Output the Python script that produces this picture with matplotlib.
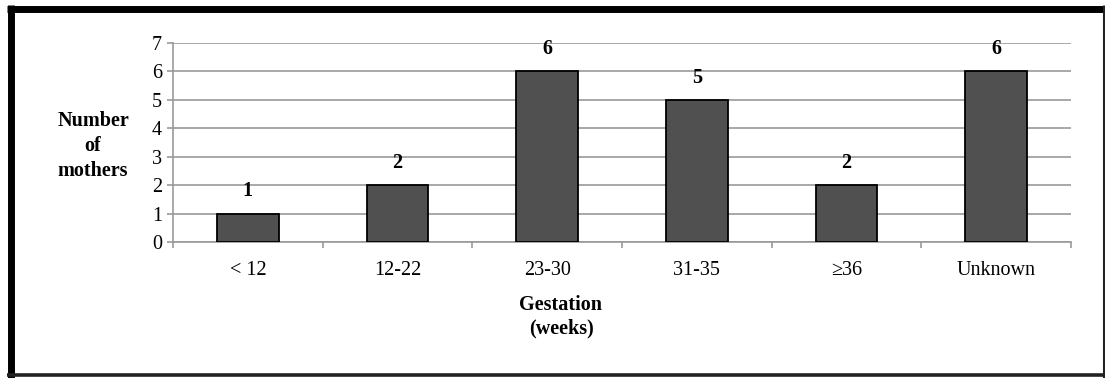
import matplotlib
matplotlib.use("Agg")
import matplotlib.pyplot as plt
from matplotlib.lines import Line2D

categories = ["< 12", "12-22", "23-30", "31-35", "\u226536", "Unknown"]
values = [1, 2, 6, 5, 2, 6]
y_ticks = [0, 1, 2, 3, 4, 5, 6, 7]

plt.rcParams['font.family'] = ['Liberation Serif', 'DejaVu Serif']

W, H = 1105, 378
fig = plt.figure(figsize=(W / 100, H / 100), dpi=100)

left, right, top, bottom = 173, 1071, 43, 242
ax = fig.add_axes([left / W, 1 - bottom / H, (right - left) / W, (bottom - top) / H])

FS = 14.5

x = list(range(len(categories)))
ax.bar(x, values, width=0.41, color="#505050", edgecolor="black", linewidth=1.3, zorder=3)
ax.set_xlim(-0.5, len(categories) - 0.5)
ax.set_ylim(0, 7)
ax.set_yticks(y_ticks)
ax.set_yticklabels([str(t) for t in y_ticks], fontsize=FS)
ax.grid(axis="y", color="#999999", linewidth=1.2, zorder=0)
ax.set_axisbelow(True)

ax.set_xticks([i - 0.5 for i in range(len(categories) + 1)], minor=False)
ax.set_xticklabels([])
ax.set_xticks(x, minor=True)
ax.set_xticklabels(categories, minor=True, fontsize=FS)
ax.tick_params(axis="x", which="minor", length=0, pad=14)
ax.tick_params(axis="x", which="major", length=4, color="#999999", width=1.2, direction="out")
ax.tick_params(axis="y", length=4, color="#999999", width=1.2, pad=4)

for s in ["top", "right"]:
    ax.spines[s].set_visible(False)
for s in ["left", "bottom"]:
    ax.spines[s].set_color("#999999")
    ax.spines[s].set_linewidth(1.2)

for xi, v in zip(x, values):
    ax.annotate(str(v), (xi, v), xytext=(0, 16), textcoords="offset points",
                ha="center", va="center", fontsize=FS, fontweight="bold", zorder=4)

fig.text(93 / W, 1 - 146 / H, "Number\nof\nmothers", ha="center", va="center",
         fontsize=FS, fontweight="bold", linespacing=1.3)
fig.text(561 / W, 1 - 317 / H, "Gestation\n(weeks)", ha="center", va="center",
         fontsize=FS, fontweight="bold", linespacing=1.2)

def px_line(x0, y0, x1, y1, lw, color="black"):
    fig.add_artist(Line2D([x0 / W, x1 / W], [1 - y0 / H, 1 - y1 / H],
                          transform=fig.transFigure, color=color, linewidth=lw,
                          solid_capstyle="butt"))

# frame: thick top/left, thin right/bottom
px_line(7, 8.5, 1105, 8.5, 5.0)
px_line(10.5, 5, 10.5, 378, 5.0)
px_line(1103.5, 5, 1103.5, 378, 2.2, "#222222")
px_line(7, 375, 1105, 375, 2.6, "#222222")

fig.savefig("out.png", dpi=100)
